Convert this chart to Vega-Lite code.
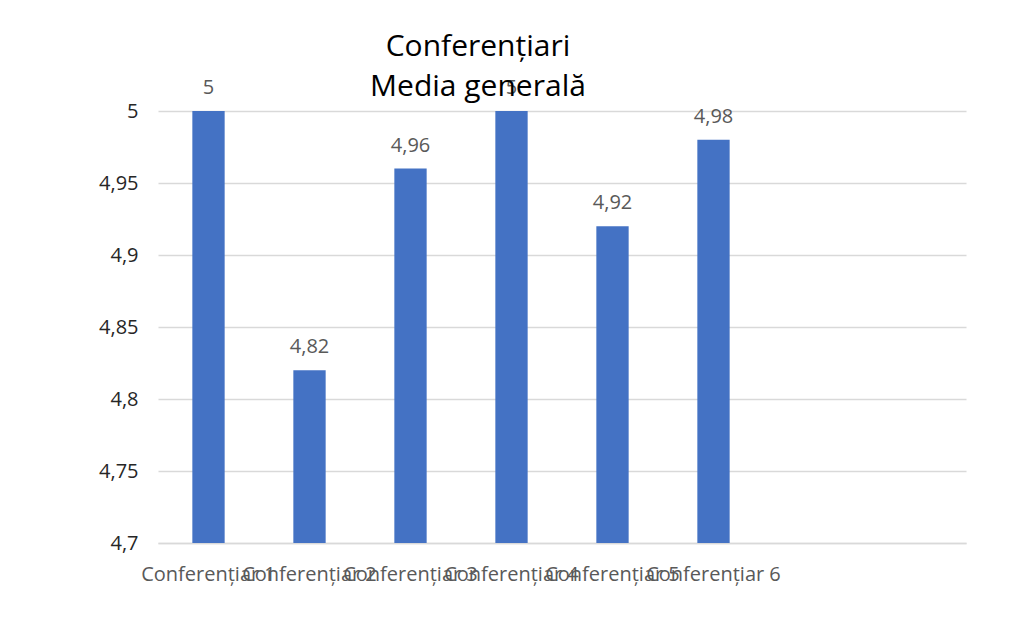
{
  "$schema": "https://vega.github.io/schema/vega-lite/v6.json",
  "width": 808,
  "height": 432,
  "autosize": {"type": "none"},
  "padding": {"left": 158, "top": 111, "right": 55, "bottom": 87},
  "background": "white",
  "config": {
    "view": {"stroke": null},
    "font": "Open Sans",
    "locale": {"number": {"decimal": ",", "thousands": ".", "grouping": [3], "currency": ["", ""]}}
  },
  "title": {
    "text": ["Conferențiari", "Media generală"],
    "fontSize": 30,
    "fontWeight": "normal",
    "color": "#000000",
    "anchor": "middle",
    "dx": -84,
    "dy": 38,
    "offset": 14,
    "lineHeight": 40,
    "font": "Open Sans"
  },
  "data": {
    "values": [
      {"conferentiar": "Conferențiar 1", "media": 5},
      {"conferentiar": "Conferențiar 2", "media": 4.82},
      {"conferentiar": "Conferențiar 3", "media": 4.96},
      {"conferentiar": "Conferențiar 4", "media": 5},
      {"conferentiar": "Conferențiar 5", "media": 4.92},
      {"conferentiar": "Conferențiar 6", "media": 4.98}
    ]
  },
  "encoding": {
    "x": {
      "field": "conferentiar",
      "type": "nominal",
      "sort": null,
      "scale": {
        "domain": ["Conferențiar 1", "Conferențiar 2", "Conferențiar 3", "Conferențiar 4", "Conferențiar 5", "Conferențiar 6", " ", "  "],
        "paddingInner": 0.68,
        "paddingOuter": 0.34
      },
      "axis": {
        "title": null,
        "labelAngle": 0,
        "labelOverlap": false,
        "labelLimit": 400,
        "labelFontSize": 20,
        "labelColor": "#595959",
        "labelPadding": 21,
        "ticks": false,
        "domain": true,
        "domainColor": "#d9d9d9",
        "domainWidth": 1.5
      }
    },
    "y": {
      "field": "media",
      "type": "quantitative",
      "scale": {"domain": [4.7, 5], "zero": false, "nice": false},
      "axis": {
        "title": null,
        "values": [4.7, 4.75, 4.8, 4.85, 4.9, 4.95, 5],
        "format": "~g",
        "labelFontSize": 20,
        "labelColor": "#262626",
        "labelPadding": 20,
        "ticks": false,
        "domain": false,
        "gridColor": "#d9d9d9",
        "gridWidth": 1.5
      }
    }
  },
  "layer": [
    {"mark": {"type": "bar", "color": "#4472c4", "clip": true}},
    {
      "mark": {"type": "text", "dy": -23, "fontSize": 20, "color": "#595959"},
      "encoding": {"text": {"field": "media", "type": "quantitative", "format": "~g"}}
    }
  ]
}
